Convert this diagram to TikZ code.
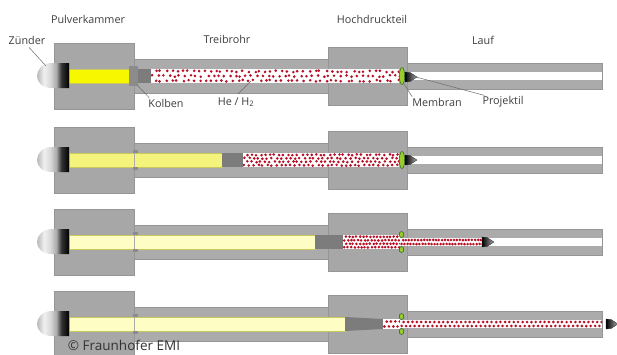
\documentclass[tikz,border=0pt]{standalone}
\usepackage{fontspec}
\setmainfont{Open Sans}
\usetikzlibrary{calc}

\definecolor{blockgray}{HTML}{A7A7A7}
\definecolor{tubegray}{HTML}{ABABAB}
\definecolor{edgegray}{HTML}{969696}
\definecolor{pistongray}{HTML}{7C7C7C}
\definecolor{flangegray}{HTML}{8C8C8C}
\definecolor{powderA}{HTML}{F7F700}
\definecolor{powderB}{HTML}{F4F47C}
\definecolor{powderC}{HTML}{FDFDC4}
\definecolor{powderedge}{HTML}{C9C95C}
\definecolor{gasred}{HTML}{B80F26}
\definecolor{membgreen}{HTML}{9CCB2E}
\definecolor{labelgray}{HTML}{3E3E3E}
\definecolor{leadergray}{HTML}{6A6A6A}

% metallic look of the igniter cap: light dome, dark rear face
% (the path's bounding box is mapped onto 25bp..75bp of the shading)
\pgfdeclarehorizontalshading{ignitershade}{100bp}{%
  color(0bp)=(gray!55); color(25bp)=(gray!55); color(36bp)=(gray!12);
  color(46bp)=(gray!30); color(55bp)=(gray!65); color(63bp)=(black!80);
  color(75bp)=(black); color(100bp)=(black)}

\tikzset{
  block/.style={fill=blockgray, draw=edgegray, line width=0.6pt},
  tube/.style={fill=tubegray, draw=edgegray, line width=0.5pt},
  bore/.style={fill=white},
  powder/.style={fill=#1, draw=powderedge, line width=0.4pt},
  piston/.style={fill=pistongray},
  flange/.style={fill=flangegray},
  gasdot/.style={fill=gasred},
  membrane/.style={fill=membgreen, draw=green!35!black, line width=0.4pt},
  lbl/.style={text=labelgray, font=\fontsize{10.8}{12}\selectfont, inner sep=0pt},
  leader/.style={draw=leadergray, line width=0.5pt},
}

% housing of one stage: drive tube, barrel, powder chamber, high-pressure section
\newcommand\gunbody[1]{%
  \path[tube] (130,#1-17) rectangle (330,#1+17);
  \path[tube] (405,#1-13) rectangle (602,#1+13);
  \path[block] (54,#1-33) rectangle (134,#1+33);
  \path[block] (328,#1-29) rectangle (407,#1+29);
  \path[bore] (405,#1-4) rectangle (602,#1+4);
}

% igniter cap on the left of the powder chamber
\newcommand\igniter[1]{%
  \shade[shading=ignitershade]
    (69,#1-13) -- (52,#1-13)
    .. controls (42,#1-13) and (37,#1-6) .. (37,#1)
    .. controls (37,#1+6) and (42,#1+12) .. (52,#1+12)
    -- (69,#1+12) -- cycle;
}

% projectile with its flat base at x = #1
\newcommand\projectile[2]{%
  \shade[left color=black, right color=gray!65, draw=black!85, line width=0.3pt]
    (#1,#2-5) -- (#1+5,#2-4.5) -- (#1+12,#2) -- (#1+5,#2+4.5) -- (#1,#2+5) -- cycle;
}

% sheared flange remnants in the grooves at the chamber exit
\newcommand\flangemarks[1]{%
  \fill[flange] (133,#1-10) rectangle (138,#1-7);
  \fill[flange] (133,#1+7) rectangle (138,#1+10);
  \draw[edgegray!80, line width=0.4pt] (134,#1-7) -- (134,#1+7);
}

% gas particles: x-start, x-end, centre y, half height, column step, rows, jitter
\newcommand\gasdots[7]{%
  \begin{scope}
    \fill[white] (#1,#3-#4) rectangle (#2,#3+#4);
    \clip (#1,#3-#4) rectangle (#2,#3+#4);
    \pgfmathtruncatemacro\gcols{(#2-#1)/#5}
    \foreach \ci in {0,...,\gcols}{
      \foreach \rj in {1,...,#6}{
        \pgfmathsetmacro\gx{#1+1.5+(\ci+0.5*mod(\rj,2))*#5+#7*rand}
        \pgfmathsetmacro\gy{#3-#4+(\rj-0.5)*2*#4/#6+0.5*#7*rand}
        \fill[gasdot] (\gx,\gy) circle (1.45);
      }
    }
  \end{scope}
}

\begin{document}
\begin{tikzpicture}[x=1pt,y=-1pt]
  \useasboundingbox (0,0) rectangle (617,354);
  \fill[white] (0,0) rectangle (617,354);
  \pgfmathsetseed{17}

  % ---- stage 1: before ignition
  \gunbody{76}
  \path[powder=powderA] (69,69) rectangle (129,83);
  \fill[flange] (129,66) rectangle (138,86);
  \fill[piston] (138,69) rectangle (151,83);
  \gasdots{151}{399}{76}{7}{5.5}{3}{1.6}
  \path[membrane] (402,76) ellipse (2.6 and 8.5);
  \projectile{405}{77}
  \igniter{76}
  \coordinate (zu-tip) at (46,66);
  \coordinate (kb-tip) at (137,85);
  \coordinate (gas-tip) at (251,81);
  \coordinate (mb-tip) at (404,84);
  \coordinate (pj-tip) at (416,77);

  % ---- stage 2: piston compresses the gas
  \gunbody{160}
  \path[powder=powderB] (69,153) rectangle (222,167);
  \flangemarks{160}
  \fill[piston] (222,153) rectangle (243,167);
  \gasdots{243}{399}{160}{7}{4.6}{4}{1}
  \path[membrane] (402,160) ellipse (2.6 and 8.5);
  \projectile{405}{160}
  \igniter{160}

  % ---- stage 3: membrane bursts, projectile accelerates
  \gunbody{242}
  \path[powder=powderC] (69,235) rectangle (315,249);
  \flangemarks{242}
  \fill[piston] (315,235) rectangle (343,249);
  \gasdots{343}{400}{242}{7}{3.4}{4}{0.5}
  \gasdots{400}{482}{242}{4}{3}{2}{0.3}
  \path[membrane] (401.5,234.5) ellipse (2.3 and 3);
  \path[membrane] (401.5,249.5) ellipse (2.3 and 3);
  \projectile{482}{242}
  \igniter{242}

  % ---- stage 4: projectile leaves the barrel
  \gunbody{324}
  \path[powder=powderC] (69,317) rectangle (345,331);
  \flangemarks{324}
  \fill[piston] (345,317) -- (383,319) -- (383,329) -- (345,331) -- cycle;
  \gasdots{383}{400}{324}{5}{4.4}{2}{0.2}
  \gasdots{400}{602}{324}{4}{4.4}{2}{0.2}
  \path[membrane] (401.5,316.5) ellipse (2.3 and 3);
  \path[membrane] (401.5,331.5) ellipse (2.3 and 3);
  \projectile{606}{324}
  \igniter{324}

  % ---- labels
  \node[lbl] (pk) at (88,19) {Pulverkammer};
  \node[lbl] (zu) at (27,40) {Zünder};
  \node[lbl] (tr) at (227,39) {Treibrohr};
  \node[lbl] (hd) at (372,19) {Hochdruckteil};
  \node[lbl] (lf) at (483,40) {Lauf};
  \node[lbl] (kb) at (166,103) {Kolben};
  \node[lbl] (gas) at (236,102) {He / H\textsubscript{2}};
  \node[lbl] (mb) at (437,102) {Membran};
  \node[lbl] (pj) at (503,102) {Projektil};
  \node[lbl, font=\fontsize{13.5}{15}\selectfont, text=black!80] (copy) at (124,345) {© Fraunhofer EMI};

  % ---- leader lines
  \draw[leader] ([xshift=2pt,yshift=-3pt]zu.south) -- (zu-tip);
  \draw[leader] ([xshift=1pt,yshift=1pt]kb.north west) -- (kb-tip);
  \draw[leader] ([xshift=2pt,yshift=3pt]gas.north) -- (gas-tip);
  \draw[leader] ([yshift=1pt]mb.north west) -- (mb-tip);
  \draw[leader] ([xshift=2pt,yshift=1pt]pj.north west) -- (pj-tip);
\end{tikzpicture}
\end{document}
